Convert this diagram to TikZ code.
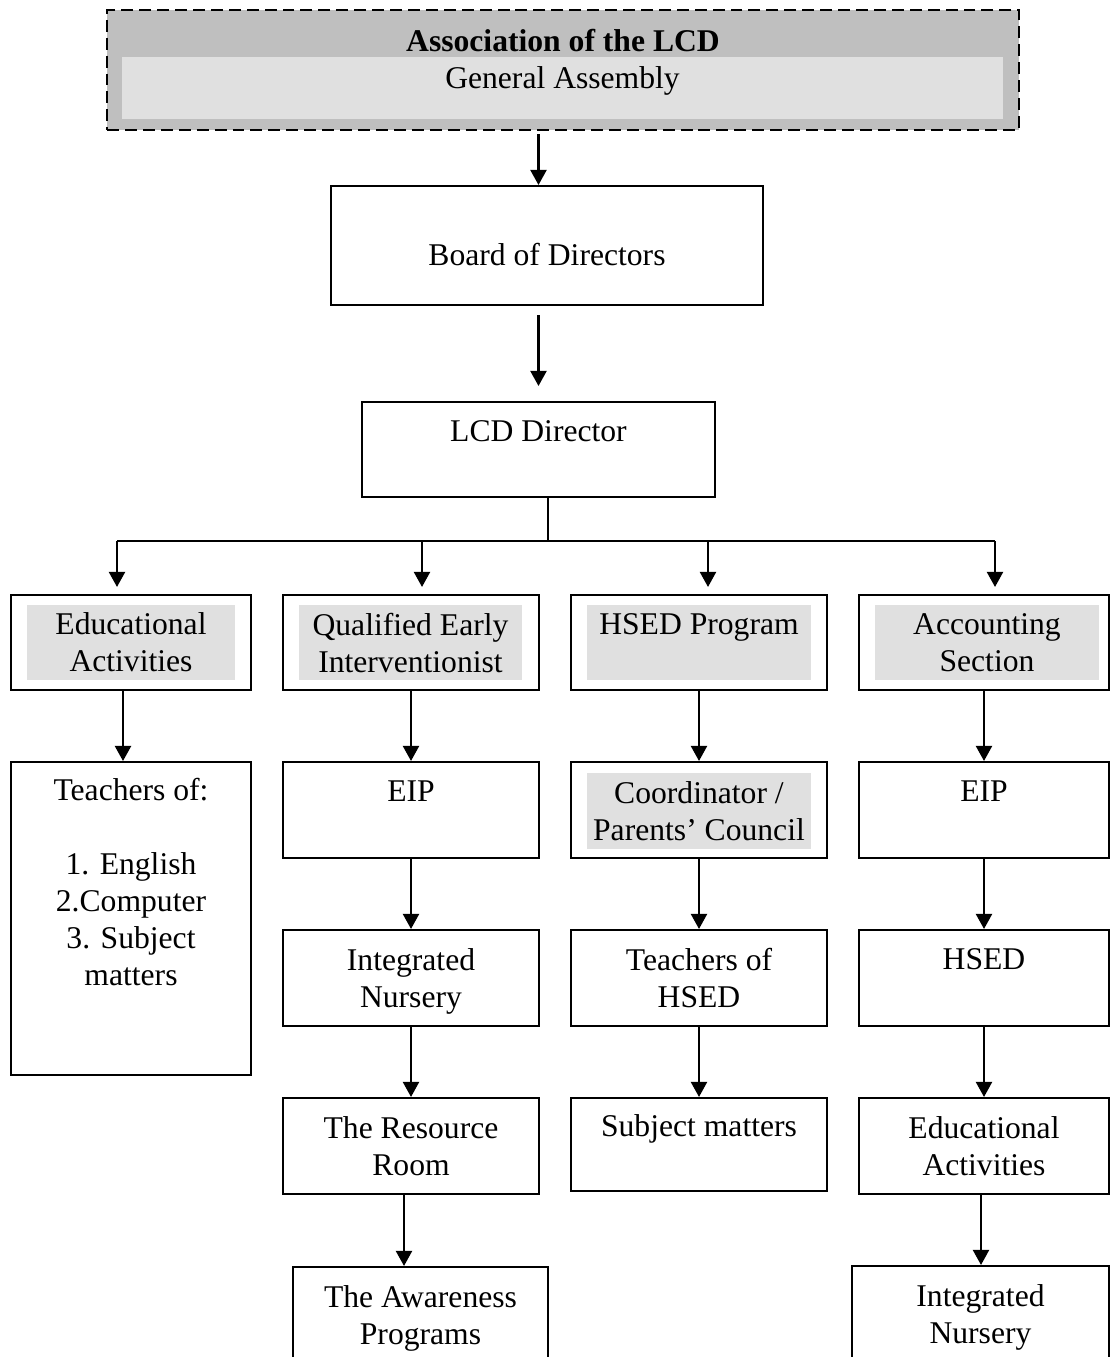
\documentclass[tikz,border=0pt]{standalone}
\usepackage{fontspec}
\setmainfont{Liberation Serif}
\usetikzlibrary{arrows.meta}
\definecolor{assocgray}{gray}{0.75}
\definecolor{shadegray}{gray}{0.88}
\tikzstyle{unit} = [draw, line width=1.2pt, align=center, text depth=0pt, inner sep=0pt]
\tikzstyle{edge} = [line width=1.2pt]

\begin{document}
\begin{tikzpicture}
[x=0.02cm, y=-0.02cm, font=\fontsize{18}{21.06}\selectfont,
>={Triangle[width=0.32cm,length=0.3cm]},
lineDecorateout/.style={->,edge}, %
box/.style={unit, minimum height=1.92cm}, %
shade/.style={fill=shadegray, align=center, text depth=0pt, inner sep=0pt, minimum height=1.5cm}]

\useasboundingbox (0,0) rectangle (1110,1357);
\clip (0,0) rectangle (1110,1357);

%% association and general assembly
\node (assoc) [draw, line width=1.2pt, dash pattern=on 6.8pt off 3.4pt, fill=assocgray, minimum width=18.24cm, minimum height=2.4cm] at (563,70) {};
\node (assembly) [shade, minimum width=17.62cm, minimum height=1.24cm, text depth=0.41cm] at (562.5,88) {General Assembly};
\node (title) [text depth=0pt] at (563,40) {\bfseries Association of the LCD};

%% board and director
\node (board) [unit, minimum width=8.64cm, minimum height=2.38cm, text height=0.78cm] at (547,245.5) {Board of Directors};
\node (lcd) [unit, minimum width=7.06cm, minimum height=1.9cm] at (538.5,449.5) {LCD Director\\ \mbox{}};

%% first row, shaded
\foreach \nodename/\x/\w/\ix/\iw/\txt in {
eduact/131/4.8/131/4.16/{Educational\\Activities}, qei/411/5.12/410.5/4.46/{Qualified Early\\Interventionist}, hsedprog/699/5.12/699/4.48/{HSED Program\\ \mbox{}}, accsec/984/5.0/987/4.48/{Accounting\\Section}}
{
\node (\nodename) [box, minimum width=\w cm, minimum height=1.9cm] at (\x,642.5) {};
\node (\nodename-in) [shade, minimum width=\iw cm] at (\ix,642.5) {\txt};
}

%% other units
\foreach \nodename/\x/\y/\w/\h/\txt in {
teachers/131/918.5/4.8/6.26/{Teachers of:\\ \mbox{}\\1. English\\2.Computer\\3. Subject\\matters\\ \mbox{}\\ \mbox{}},
eipA/411/810/5.12/1.92/{EIP\\ \mbox{}}, coord/699/810/5.12/1.92/{}, eipB/984/810/5.0/1.92/{EIP\\ \mbox{}},
nurseryA/411/978/5.12/1.92/{Integrated\\Nursery}, teachhsed/699/978/5.12/1.92/{Teachers of\\HSED}, hsed/984/978/5.0/1.92/{HSED\\ \mbox{}},
resroom/411/1146/5.12/1.92/{The Resource\\Room}, subjects/699/1144.5/5.12/1.86/{Subject matters\\ \mbox{}}, eduactB/984/1146/5.0/1.92/{Educational\\Activities},
awareness/420.5/1315/5.1/1.92/{The Awareness\\Programs}, nurseryB/980.5/1314/5.14/1.92/{Integrated\\Nursery}}
{
\node (\nodename) [box, minimum width=\w cm, minimum height=\h cm] at (\x,\y) {\txt};
}
\node (coord-in) [shade, minimum width=4.48cm, minimum height=1.52cm] at (699,811) {Coordinator /\\Parents' Council};

%% edges or lines
\draw[lineDecorateout, shorten <=0.06cm] (assoc.south -| lcd.north) -- (board.north -| lcd.north);
\draw[lineDecorateout, shorten <=0.18cm, shorten >=0.3cm] (board.south -| lcd.north) -- (lcd.north);

\coordinate (bar) at (548,541);
\draw[line width=0.8pt] (lcd.south -| bar) -- (bar);
\foreach \nodename/\x in {eduact/117, qei/422, hsedprog/708, accsec/995}
{
\coordinate (\nodename-b) at (\x,541);
\draw[lineDecorateout, shorten >=0.14cm] (\nodename-b) -- (\nodename-b |- \nodename.north);
}
\draw[edge] (eduact-b) -- (accsec-b);

\foreach \startnode/\endnode/\dx in {eduact/teachers/-8, qei/eipA/0, hsedprog/coord/0, accsec/eipB/0,
eipA/nurseryA/0, coord/teachhsed/0, eipB/hsed/0, nurseryA/resroom/0, teachhsed/subjects/0, hsed/eduactB/0,
resroom/awareness/-7, eduactB/nurseryB/-3}
{
\draw[lineDecorateout] (\startnode.south) ++(\dx,0) coordinate (from) -- (from |- \endnode.north);
}

\end{tikzpicture}
\end{document}
